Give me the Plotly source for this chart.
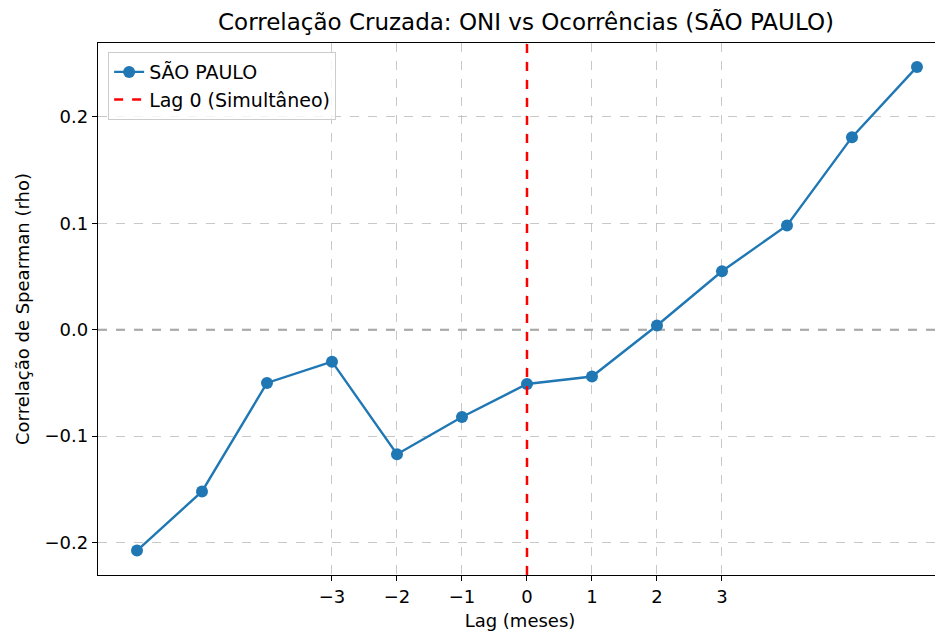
import plotly.graph_objects as go

lags = [-6, -5, -4, -3, -2, -1, 0, 1, 2, 3, 4, 5, 6]
rho = [-0.2075, -0.152, -0.050, -0.030, -0.117, -0.082, -0.051, -0.044, 0.004, 0.055, 0.098, 0.181, 0.247]
x_tickvals = [-3, -2, -1, 0, 1, 2, 3]
x_ticktext = ["\u22123", "\u22122", "\u22121", "0", "1", "2", "3"]
y_tickvals = [-0.2, -0.1, 0.0, 0.1, 0.2]
y_ticktext = ["\u22120.2", "\u22120.1", "0.0", "0.1", "0.2"]

FONT = "DejaVu Sans"
fig = go.Figure()
fig.add_trace(go.Scatter(
    x=lags, y=rho, mode="lines+markers", name="SÃO PAULO",
    line=dict(color="#1f77b4", width=2.4),
    marker=dict(color="#1f77b4", size=12),
))
# zero reference
fig.add_shape(type="line", xref="paper", yref="y", x0=0, x1=1, y0=0, y1=0,
              line=dict(color="rgba(128,128,128,0.8)", width=2, dash="dash"), layer="below")
# lag 0 vertical line
fig.add_shape(type="line", xref="x", yref="paper", x0=0, x1=0, y0=0, y1=1,
              line=dict(color="red", width=2.5, dash="dash"),
              showlegend=True, name="Lag 0 (Simultâneo)")

fig.update_layout(
    width=935, height=625,
    paper_bgcolor="white", plot_bgcolor="white",
    margin=dict(l=90, r=1, t=35, b=58),
    font=dict(family=FONT, size=18, color="black"),
    title=dict(text="Correlação Cruzada: ONI vs Ocorrências (SÃO PAULO)",
               x=(526 - 8) / 935, xanchor="center", y=1 - (22 - 8) / 625, yanchor="middle",
               font=dict(size=23, family=FONT)),
    showlegend=True,
    legend=dict(x=0.012, y=0.983, xanchor="left", yanchor="top",
                bordercolor="#cccccc", borderwidth=1, bgcolor="rgba(255,255,255,0.8)",
                font=dict(size=19, family=FONT), tracegroupgap=2),
    xaxis=dict(range=[-6.6, 6.385], tickvals=x_tickvals, ticktext=x_ticktext,
               showgrid=True, gridcolor="rgba(176,176,176,0.7)", griddash="dash", gridwidth=1,
               showline=True, linecolor="black", linewidth=1.3, mirror=True,
               ticks="outside", ticklen=5, tickcolor="black", zeroline=False,
               title=dict(text="Lag (meses)", standoff=8, font=dict(size=18)),
               tickfont=dict(size=18)),
    yaxis=dict(range=[-0.2305, 0.2695], tickvals=y_tickvals, ticktext=y_ticktext,
               showgrid=True, gridcolor="rgba(176,176,176,0.7)", griddash="dash", gridwidth=1,
               showline=True, linecolor="black", linewidth=1.3,
               ticks="outside", ticklen=5, tickcolor="black", zeroline=False,
               title=dict(text="Correlação de Spearman (rho)", standoff=10, font=dict(size=18)),
               tickfont=dict(size=18)),
)
fig.write_html("out.html")
